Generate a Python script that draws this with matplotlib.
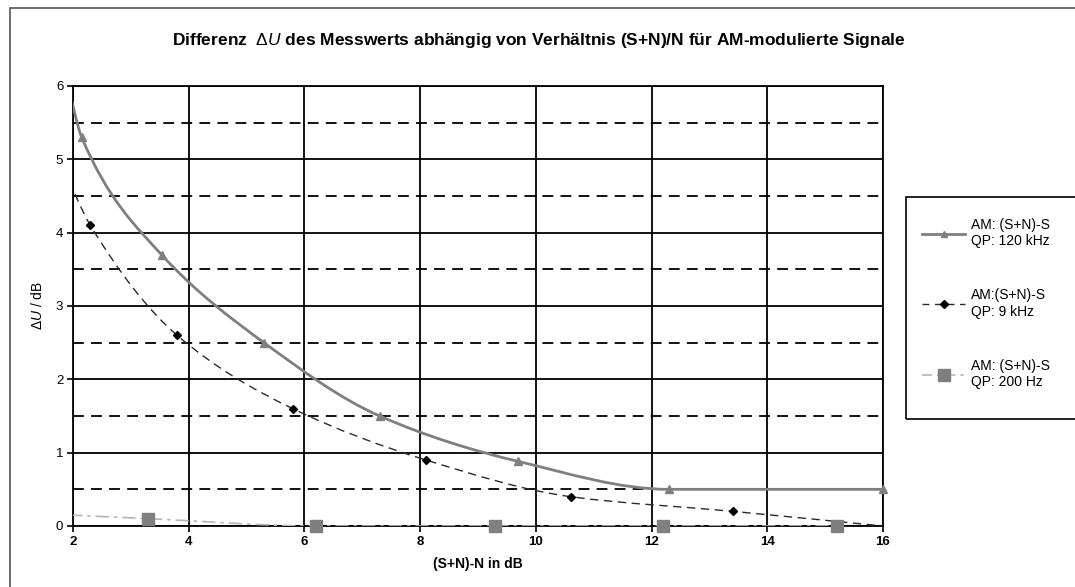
import numpy as np
import matplotlib
matplotlib.use('Agg')
import matplotlib.pyplot as plt
from matplotlib.path import Path
from matplotlib.patches import PathPatch, Rectangle
from matplotlib.lines import Line2D

plt.rcParams['font.family'] = ['Liberation Sans', 'DejaVu Sans']
plt.rcParams['mathtext.fontset'] = 'custom'
plt.rcParams['mathtext.rm'] = 'Liberation Sans'
plt.rcParams['mathtext.it'] = 'Liberation Sans:italic'

# values (first points lie just left of the axis)
x_120k = [1.93, 2.15, 3.53, 5.3, 7.3, 9.7, 12.3, 16.0]
y_120k = [5.95, 5.3, 3.7, 2.5, 1.5, 0.88, 0.5, 0.5]
x_9k = [1.93, 2.3, 3.8, 5.8, 8.1, 10.6, 13.4, 16.0]
y_9k = [4.7, 4.1, 2.6, 1.6, 0.9, 0.4, 0.2, 0.0]
x_200 = [1.93, 3.3, 6.2, 9.3, 12.2, 15.2]
y_200 = [0.15, 0.1, 0.0, 0.0, 0.0, 0.0]

labels = ['AM: (S+N)-S\nQP: 120 kHz', 'AM:(S+N)-S\nQP: 9 kHz', 'AM: (S+N)-S\nQP: 200 Hz']
xticks = [2, 4, 6, 8, 10, 12, 14, 16]
yticks = [0, 1, 2, 3, 4, 5, 6]


def smooth_path(xs, ys):
    # monotone cubic through the points, written as bezier segments
    x = np.asarray(xs, float)
    y = np.asarray(ys, float)
    h = np.diff(x)
    d = np.diff(y) / h
    m = np.zeros(len(x))
    m[0], m[-1] = d[0], d[-1]
    for k in range(1, len(x) - 1):
        if d[k - 1] * d[k] > 0:
            w1 = 2 * h[k] + h[k - 1]
            w2 = h[k] + 2 * h[k - 1]
            m[k] = (w1 + w2) / (w1 / d[k - 1] + w2 / d[k])
    verts = [(x[0], y[0])]
    codes = [Path.MOVETO]
    for k in range(len(x) - 1):
        verts += [(x[k] + h[k] / 3, y[k] + m[k] * h[k] / 3),
                  (x[k + 1] - h[k] / 3, y[k + 1] - m[k + 1] * h[k] / 3),
                  (x[k + 1], y[k + 1])]
        codes += [Path.CURVE4] * 3
    return Path(verts, codes)


W, H = 1075, 587
fig = plt.figure(figsize=(W / 100, H / 100), dpi=100)

# outer chart frame (cut by the picture edge)
fig.patches.append(Rectangle((10 / W, -0.1), 1.2, 1 - 8 / H + 0.1, transform=fig.transFigure,
                             fill=False, edgecolor='#555555', lw=1.2))

ax = fig.add_axes([73 / W, 1 - 526 / H, 810 / W, 440 / H])
ax.set_xlim(2, 16)
ax.set_ylim(0, 6)

for xv in xticks:
    ax.axvline(xv, color='black', lw=1.3, zorder=1)
for yv in yticks:
    ax.axhline(yv, color='black', lw=1.3, zorder=1)
for yv in np.arange(0.5, 6, 1.0):
    ax.axhline(yv, color='black', lw=1.3, dashes=(6, 4), zorder=1)

ax.add_patch(PathPatch(smooth_path(x_120k, y_120k), fill=False, edgecolor='#7f7f7f', lw=2.0, zorder=3))
ax.plot(x_120k[1:], y_120k[1:], ls='none', marker='^', ms=6, color='#7f7f7f', zorder=4, clip_on=False)

ax.add_patch(PathPatch(smooth_path(x_9k, y_9k), fill=False, edgecolor='#2b2b2b', lw=1.0,
                       linestyle=(0, (6, 4)), zorder=3))
ax.plot(x_9k[1:-1], y_9k[1:-1], ls='none', marker='D', ms=4, color='black', zorder=4, clip_on=False)

ax.add_patch(PathPatch(smooth_path(x_200, y_200), fill=False, edgecolor='#b5b5b5', lw=1.2,
                       linestyle=(0, (8, 3, 2, 3)), zorder=3))
ax.plot(x_200[1:], y_200[1:], ls='none', marker='s', ms=8, color='#7f7f7f', zorder=4, clip_on=False)

ax.set_xticks(xticks)
ax.set_yticks(yticks)
ax.tick_params(axis='both', direction='out', length=4, width=1.2, labelsize=9.5, pad=3)
for t in ax.get_xticklabels():
    t.set_fontweight('bold')
for s in ax.spines.values():
    s.set_linewidth(1.3)

fig.text(539 / W, 1 - 40 / H,
         r'Differenz  $\Delta U$ des Messwerts abhängig von Verhältnis (S+N)/N für AM-modulierte Signale',
         ha='center', va='center', fontsize=12.5, fontweight='bold')
fig.text(478 / W, 1 - 564 / H, '(S+N)-N in dB', ha='center', va='center', fontsize=10, fontweight='bold')
fig.text(38 / W, 1 - 305 / H, r'$\Delta U$ / dB', ha='center', va='center', rotation=90, fontsize=10)

# legend box, its right edge runs off the picture
fig.patches.append(Rectangle((906 / W, 1 - 419 / H), 0.3, 222 / H, transform=fig.transFigure,
                             fill=False, edgecolor='black', lw=1.2))
handles = [
    Line2D([], [], color='#7f7f7f', lw=2.0, marker='^', ms=5),
    Line2D([], [], color='#2b2b2b', lw=1.0, dashes=(5, 4), marker='D', ms=4, mfc='black', mec='black'),
    Line2D([], [], color='#b5b5b5', lw=1.2, dashes=(6, 3, 2, 3), marker='s', ms=8, mfc='#7f7f7f', mec='#7f7f7f'),
]
fig.legend(handles, labels, loc='upper left', bbox_to_anchor=(922 / W, 1 - 218 / H),
           frameon=False, fontsize=10, handlelength=3.1, handletextpad=0.4, labelspacing=2.9,
           borderaxespad=0, borderpad=0)

fig.savefig('out.png', dpi=100)
